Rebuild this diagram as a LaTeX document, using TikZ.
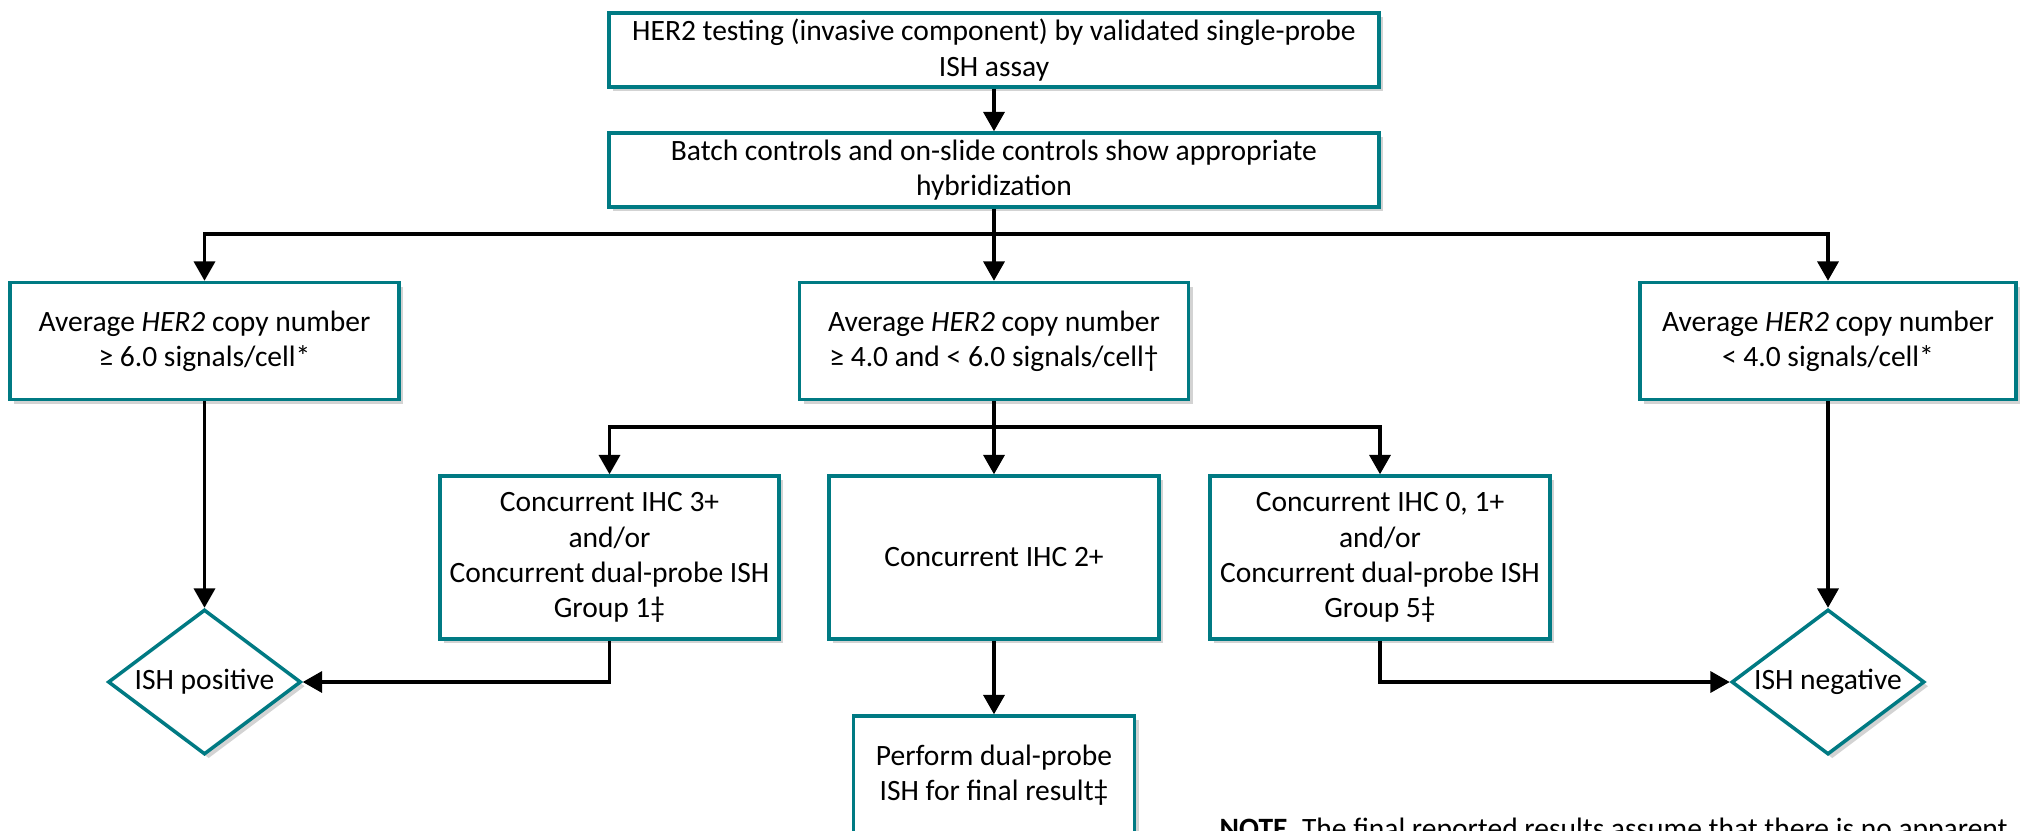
\documentclass[tikz,border=0pt]{standalone}
\usepackage{fontspec}
\setmainfont{Carlito}
\usepackage{tikz}
\usepackage{xcolor}
\definecolor{tteal}{RGB}{0,122,131}
\usetikzlibrary{shapes.geometric}
\usetikzlibrary{arrows.meta}
\usetikzlibrary{shadows}

\begin{document}
\begin{tikzpicture}[font=\fontsize{8.4pt}{10pt}\selectfont]
\tikzstyle{boxTeal} = [
  shape=rectangle,
  draw = tteal,
  line width = 1,
  fill = white,
  align = center,
  inner sep = 0pt,
  drop shadow = {shadow xshift=1.2pt, shadow yshift=-1.2pt, opacity=0.35}
]
\tikzstyle{boxWide} = [boxTeal, minimum width=7.70cm, minimum height=0.74cm]
\tikzstyle{boxAvg} = [boxTeal, minimum width=3.89cm, minimum height=1.17cm]
\tikzstyle{boxGroup} = [boxTeal, minimum width=3.39cm, minimum height=1.63cm]
\tikzstyle{diamondTeal} = [
  shape=diamond,
  draw = tteal,
  line width = 1,
  fill = white,
  aspect = 1.33,
  inner sep = 0pt,
  minimum width = 1.93cm,
  minimum height = 1.45cm,
  drop shadow = {shadow xshift=1.2pt, shadow yshift=-1.2pt, opacity=0.35}
]
\tikzstyle{tarrow} = [
  draw = black,
  line width = 0.9,
  -{Triangle[length=5.5pt, width=6pt]}
]

\useasboundingbox (0,0) rectangle (20.2,-8.3);

\node[boxWide] (b1) at (9.94,-0.50) {HER2 testing (invasive component) by validated single-probe\\ISH assay};
\node[boxWide] (b2) at (9.94,-1.70) {Batch controls and on-slide controls show appropriate\\hybridization};

\node[boxAvg] (b3) at (2.045,-3.41) {Average \textit{HER2} copy number\\≥ 6.0 signals/cell*};
\node[boxAvg] (b4) at (9.94,-3.41) {Average \textit{HER2} copy number\\≥ 4.0 and < 6.0 signals/cell†};
\node[boxAvg, minimum width=3.76cm] (b5) at (18.28,-3.41) {Average \textit{HER2} copy number\\< 4.0 signals/cell*};

\node[boxGroup] (b6) at (6.095,-5.575) {Concurrent IHC 3+\\and/or\\Concurrent dual-probe ISH\\Group 1‡};
\node[boxGroup, minimum width=3.30cm] (b7) at (9.94,-5.575) {Concurrent IHC 2+};
\node[boxGroup, minimum width=3.40cm] (b8) at (13.80,-5.575) {Concurrent IHC 0, 1+\\and/or\\Concurrent dual-probe ISH\\Group 5‡};

\node[boxTeal, minimum width=2.81cm, minimum height=1.18cm] (b9) at (9.94,-7.75) {Perform dual-probe\\ISH for final result‡};

\node[diamondTeal] (d1) at (2.045,-6.82) {ISH positive};
\node[diamondTeal] (d2) at (18.28,-6.82) {ISH negative};

\node[anchor=base west, inner sep=0pt] (n1) at (12.19,-8.38) {\textbf{NOTE.} The final reported results assume that there is no apparent};

\coordinate (s1) at (9.94,-2.34);
\coordinate (s2) at (9.94,-4.27);

\draw[tarrow] (b1) -- (b2);
\draw[tarrow] (b2) -- (b4);
\draw[tarrow] (s1) -| (b3.north);
\draw[tarrow] (s1) -| (b5.north);
\draw[tarrow] (b4) -- (b7);
\draw[tarrow] (s2) -| (b6.north);
\draw[tarrow] (s2) -| (b8.north);
\draw[tarrow] (b7) -- (b9);
\draw[tarrow] (b3) -- (d1);
\draw[tarrow] (b5) -- (d2);
\draw[tarrow] (b6.south) |- (d1.east);
\draw[tarrow] (b8.south) |- (d2.west);

\end{tikzpicture}
\end{document}
